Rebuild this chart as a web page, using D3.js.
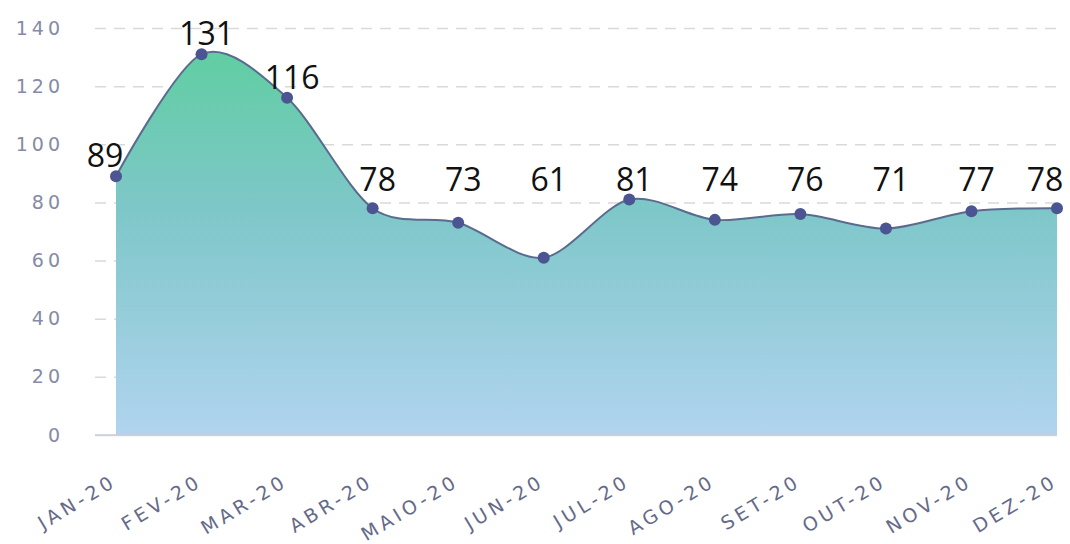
<!DOCTYPE html>
<html>
<head>
<meta charset="utf-8">
<script src="https://cdn.jsdelivr.net/npm/d3@7/dist/d3.min.js"></script>
<style>
  html, body { margin: 0; padding: 0; background: #fff; }
  svg { display: block; }
</style>
</head>
<body>
<div id="chart"></div>
<script>
// dados do gráfico
const months = ['JAN-20', 'FEV-20', 'MAR-20', 'ABR-20', 'MAIO-20', 'JUN-20',
  'JUL-20', 'AGO-20', 'SET-20', 'OUT-20', 'NOV-20', 'DEZ-20']
const values = [89, 131, 116, 78, 73, 61, 81, 74, 76, 71, 77, 78]
const yTicks = [0, 20, 40, 60, 80, 100, 120, 140]

const width = 1070
const height = 544
const gridLeft = 95
const plotLeft = 116
const plotRight = 1057
const plotTop = 28
const plotBottom = 435
// rótulos baixos ficam numa mesma linha, acima do nível 81
const labelFloor = 81

const svg = d3.select('#chart')
  .append('svg')
  .attr('width', width)
  .attr('height', height)

const x = d3.scalePoint()
  .domain(months)
  .range([plotLeft, plotRight])

const y = d3.scaleLinear()
  .domain([0, 140])
  .range([plotBottom, plotTop])

// gradiente da área
const grad = svg.append('defs')
  .append('linearGradient')
  .attr('id', 'areaGrad')
  .attr('gradientUnits', 'userSpaceOnUse')
  .attr('x1', 0).attr('x2', 0)
  .attr('y1', plotTop).attr('y2', plotBottom)
grad.append('stop').attr('offset', '0%').attr('stop-color', '#5ccf9c')
grad.append('stop').attr('offset', '45%').attr('stop-color', '#7ec7c9')
grad.append('stop').attr('offset', '100%').attr('stop-color', '#b1d4ef')

// linhas de grade
const yAxis = d3.axisLeft(y)
  .tickValues(yTicks)
  .tickSize(-(plotRight - gridLeft))
  .tickPadding(31)

const gy = svg.append('g')
  .attr('transform', `translate(${gridLeft},0)`)
  .call(yAxis)
gy.select('.domain').remove()
gy.selectAll('.tick line')
  .attr('stroke', '#d9d9d9')
  .attr('stroke-width', 1.5)
  .attr('stroke-dasharray', d => d === 0 ? null : '11,8')
gy.selectAll('.tick text')
  .attr('fill', '#868aa6')
  .style('font-family', 'DejaVu Sans, Verdana, sans-serif')
  .style('font-size', '19px')
  .style('letter-spacing', '4px')

// área e linha
const curve = d3.curveCardinal.tension(0.1)
const area = d3.area()
  .x((d, i) => x(months[i]))
  .y0(y(0))
  .y1(d => y(d))
  .curve(curve)
const line = d3.line()
  .x((d, i) => x(months[i]))
  .y(d => y(d))
  .curve(curve)

svg.append('path')
  .attr('d', area(values))
  .attr('fill', 'url(#areaGrad)')

svg.append('path')
  .attr('d', line(values))
  .attr('fill', 'none')
  .attr('stroke', '#5a6b8e')
  .attr('stroke-width', 2)

// eixo base
svg.append('line')
  .attr('x1', gridLeft).attr('x2', plotRight)
  .attr('y1', y(0)).attr('y2', y(0))
  .attr('stroke', '#c8ccd4')
  .attr('stroke-width', 1.5)

// pontos
svg.append('g')
  .selectAll('circle')
  .data(values)
  .join('circle')
  .attr('cx', (d, i) => x(months[i]))
  .attr('cy', d => y(d))
  .attr('r', 6)
  .attr('fill', '#4a5592')

// rótulos de valor
const last = values.length - 1
svg.append('g')
  .selectAll('text')
  .data(values)
  .join('text')
  .attr('x', (d, i) => x(months[i]) + (i === 0 ? -11 : i === last ? -12 : 5))
  .attr('y', d => y(Math.max(d, labelFloor)) - 9)
  .attr('text-anchor', 'middle')
  .attr('fill', '#111')
  .style('font-family', 'Open Sans, sans-serif')
  .style('font-size', '32px')
  .text(d => d)

// rótulos do eixo x
svg.append('g')
  .selectAll('text')
  .data(months)
  .join('text')
  .attr('transform', d => `translate(${x(d) + 2},${plotBottom + 50}) rotate(-31)`)
  .attr('text-anchor', 'end')
  .attr('fill', '#666a8a')
  .style('font-family', 'DejaVu Sans, Verdana, sans-serif')
  .style('font-size', '19px')
  .style('letter-spacing', '4px')
  .text(d => d)
</script>
</body>
</html>
